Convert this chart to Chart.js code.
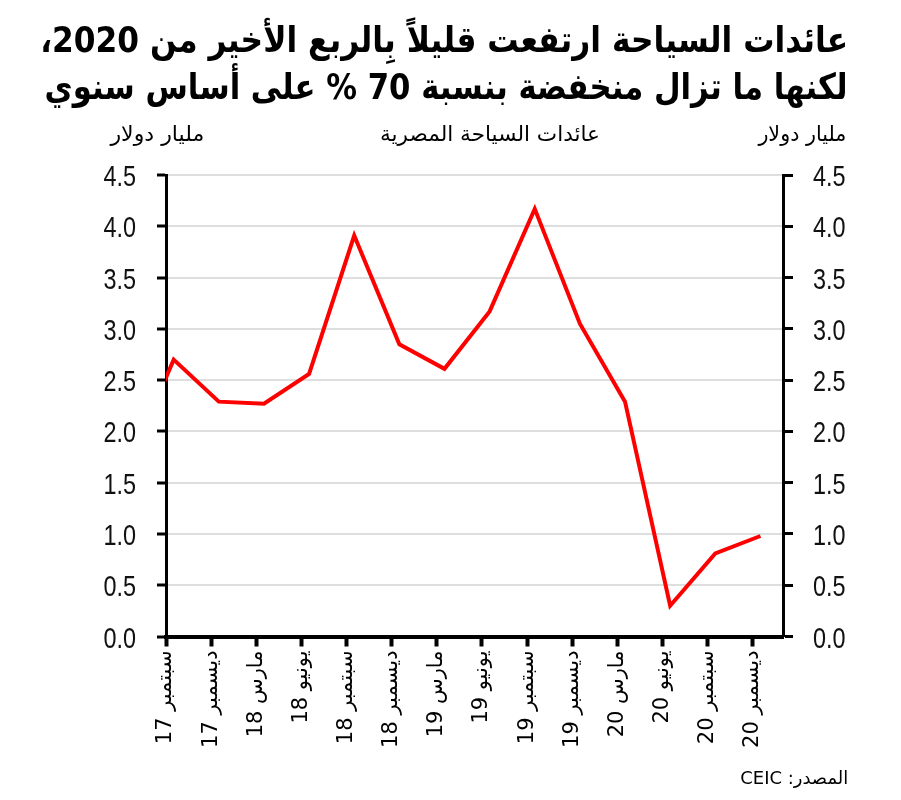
<!DOCTYPE html>
<html>
<head>
<meta charset="utf-8">
<script src="https://cdn.jsdelivr.net/npm/chart.js@4.4.1/dist/chart.umd.min.js"></script>
<style>
  html, body { margin: 0; padding: 0; background: #fff; }
  #wrap { position: relative; width: 901px; height: 800px; overflow: hidden; }
  canvas { position: absolute; left: 0; top: 0; }
  .txt { position: absolute; direction: rtl; white-space: nowrap; color: #000; font-family: "DejaVu Sans", sans-serif; line-height: 1; }
  .fit { transform-origin: right top; }
  .t { font-size: 36px; font-weight: bold; right: 53px; }
  #t1 { top: 22px; }
  #t2 { top: 69px; }
  .sub { top: 124px; font-size: 21px; }
  #src { right: 53px; top: 769px; font-size: 18px; }
</style>
</head>
<body>
<div id="wrap">
  <canvas id="c" width="901" height="800" dir="rtl"></canvas>
  <div class="txt t fit" id="t1" data-w="808">عائدات السياحة ارتفعت قليلاً بِالربع الأخير من 2020،</div>
  <div class="txt t fit" id="t2" data-w="803">لكنها ما تزال منخفضة بنسبة 70 % على أساس سنوي</div>
  <div class="txt sub fit" id="subL" style="right:697px;" data-w="94">مليار دولار</div>
  <div class="txt sub fit" id="subC" style="right:301px;" data-w="220">عائدات السياحة المصرية</div>
  <div class="txt sub fit" id="subR" style="right:55px;" data-w="88">مليار دولار</div>
  <div class="txt fit" id="src" data-w="108">المصدر: CEIC</div>
</div>
<script>
// Quarter labels shown on the x axis
const quarterLabels = ["سبتمبر 17","ديسمبر 17","مارس 18","يونيو 18","سبتمبر 18","ديسمبر 18","مارس 19","يونيو 19","سبتمبر 19","ديسمبر 19","مارس 20","يونيو 20","سبتمبر 20","ديسمبر 20"];
// Tourism revenue, billion USD; first value (June 2017) lies just before the axis start
const revenuePrev = 1.67;
const revenue = [2.70, 2.29, 2.27, 2.56, 3.91, 2.85, 2.61, 3.17, 4.17, 3.05, 2.29, 0.30, 0.81, 0.98];
const yTicks = [0, 0.5, 1, 1.5, 2, 2.5, 3, 3.5, 4, 4.5];

// fit the Arabic text blocks to their measured widths
document.querySelectorAll('.fit').forEach(el => {
  const w = el.getBoundingClientRect().width;
  const target = +el.dataset.w;
  el.style.transform = 'scaleX(' + (target / w) + ')';
});

const pointShift = 0.17; // data sits slightly after each quarter tick
const points = [{x: -1 + pointShift, y: revenuePrev}].concat(
  revenue.map((v, i) => ({x: i + pointShift, y: v}))
);

const labFont = { family: "'DejaVu Sans', sans-serif", size: 21 };

function fixedY(scale) { scale.ticks = yTicks.map(v => ({ value: v })); }

// narrow tick numbers for both value axes
const narrowTicks = {
  id: 'narrowTicks',
  afterDraw(chart) {
    const ctx = chart.ctx;
    ['y', 'y2'].forEach(id => {
      const s = chart.scales[id];
      ctx.save();
      ctx.font = '30px "Liberation Sans", Arial, sans-serif';
      ctx.fillStyle = '#111';
      ctx.textBaseline = 'alphabetic';
      ctx.direction = 'ltr';
      s.ticks.forEach(t => {
        const y = s.getPixelForValue(t.value);
        ctx.save();
        if (id === 'y') { ctx.translate(s.right - 30, y + 11); ctx.textAlign = 'right'; }
        else { ctx.translate(s.left + 30, y + 11); ctx.textAlign = 'left'; }
        ctx.scale(0.78, 1);
        ctx.fillText(t.value.toFixed(1), 0, 0);
        ctx.restore();
      });
      ctx.restore();
    });
  }
};

new Chart(document.getElementById('c'), {
  type: 'line',
  data: {
    datasets: [{
      data: points,
      borderColor: '#ff0000',
      borderWidth: 4,
      pointRadius: 0,
      tension: 0,
      fill: false,
      borderJoinStyle: 'miter'
    }]
  },
  plugins: [narrowTicks],
  options: {
    responsive: false,
    animation: false,
    devicePixelRatio: 1,
    layout: { padding: { top: 175, left: 0, right: 0, bottom: 0 } },
    plugins: { legend: { display: false }, tooltip: { enabled: false }, title: { display: false } },
    scales: {
      x: {
        type: 'linear',
        min: 0,
        max: 13.67,
        afterBuildTicks: s => { s.ticks = quarterLabels.map((_, i) => ({ value: i })); },
        afterFit: s => { s.height = 163.5; },
        border: { display: true, color: '#000', width: 4 },
        grid: { drawOnChartArea: false, drawTicks: true, tickColor: '#000', tickLength: 10, tickWidth: 4 },
        ticks: {
          autoSkip: false, minRotation: 90, maxRotation: 90, padding: 4,
          color: '#000', font: labFont,
          callback: v => quarterLabels[v]
        }
      },
      y: {
        position: 'left',
        min: 0, max: 4.5,
        afterBuildTicks: fixedY,
        afterFit: s => { s.width = 166; },
        border: { display: true, color: '#000', width: 3 },
        grid: { color: '#dedede', lineWidth: 2, tickColor: '#000', tickLength: 9, tickWidth: 3 },
        ticks: { display: false }
      },
      y2: {
        position: 'right',
        min: 0, max: 4.5,
        afterBuildTicks: fixedY,
        afterFit: s => { s.width = 118; },
        border: { display: true, color: '#000', width: 3 },
        grid: { drawOnChartArea: false, tickColor: '#000', tickLength: 10, tickWidth: 3 },
        ticks: { display: false }
      }
    }
  }
});
</script>
</body>
</html>
